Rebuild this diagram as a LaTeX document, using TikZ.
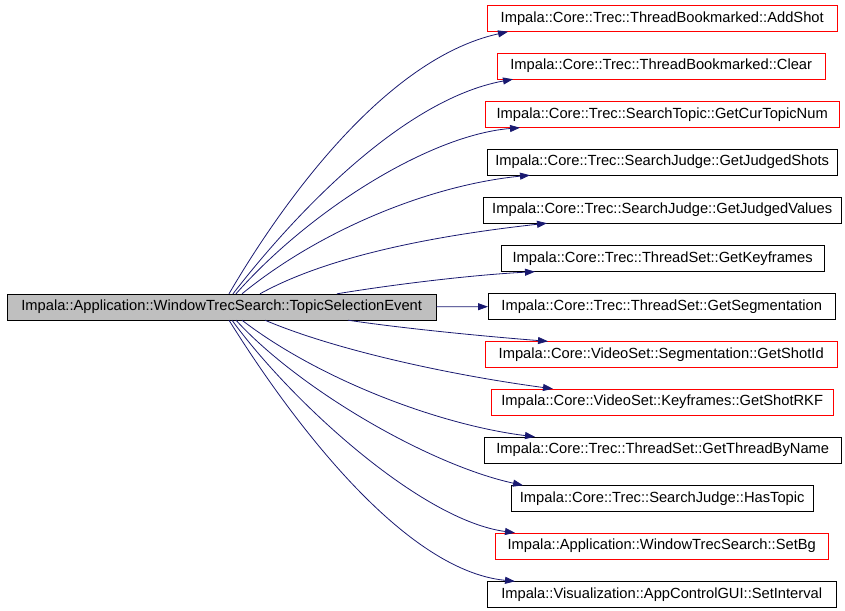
\documentclass[tikz,border=0pt]{standalone}
\usepackage{fontspec}
\setmainfont{Liberation Sans}
\usetikzlibrary{arrows.meta}

\definecolor{edgeblue}{HTML}{191970}
\definecolor{mainfill}{HTML}{BFBFBF}

\tikzset{
	fn/.style={draw, rectangle, anchor=west, minimum height=26pt, inner sep=0pt, font=\fontsize{14.7}{16}\selectfont},
	fnred/.style={fn, draw=red},
	call/.style={draw=edgeblue, line width=0.8pt, -{Triangle[length=10pt,width=7pt]}}
}

\begin{document}
\begin{tikzpicture}[x=1pt, y=-1pt]
	
	\useasboundingbox (0,0) rectangle (845,610);
	
	\node [fn, fill=mainfill, minimum width=429pt] (tse) at (7,307){Impala::Application::WindowTrecSearch::TopicSelectionEvent};
	
	\node [fnred, minimum width=350pt] (addshot) at (487,18.5){Impala::Core::Trec::ThreadBookmarked::AddShot};
	\node [fnred, minimum width=328pt] (clear) at (497,66){Impala::Core::Trec::ThreadBookmarked::Clear};
	\node [fnred, minimum width=354pt] (curtopic) at (485,114.5){Impala::Core::Trec::SearchTopic::GetCurTopicNum};
	\node [fn, minimum width=350pt] (jshots) at (487,162){Impala::Core::Trec::SearchJudge::GetJudgedShots};
	\node [fn, minimum width=358pt] (jvalues) at (483,210){Impala::Core::Trec::SearchJudge::GetJudgedValues};
	\node [fn, minimum width=323pt] (keyframes) at (501,258.5){Impala::Core::Trec::ThreadSet::GetKeyframes};
	\node [fn, minimum width=347pt] (segm) at (488,306.5){Impala::Core::Trec::ThreadSet::GetSegmentation};
	\node [fnred, minimum width=352pt] (shotid) at (485,354.5){Impala::Core::VideoSet::Segmentation::GetShotId};
	\node [fnred, minimum width=342pt] (shotrkf) at (491,402){Impala::Core::VideoSet::Keyframes::GetShotRKF};
	\node [fn, minimum width=357pt] (byname) at (484,450){Impala::Core::Trec::ThreadSet::GetThreadByName};
	\node [fn, minimum width=302pt] (hastopic) at (511,498.5){Impala::Core::Trec::SearchJudge::HasTopic};
	\node [fnred, minimum width=333pt] (setbg) at (495,546){Impala::Application::WindowTrecSearch::SetBg};
	\node [fn, minimum width=349pt] (interval) at (487,594.5){Impala::Visualization::AppControlGUI::SetInterval};
	
	\draw[call] ([xshift=222pt]tse.north west) .. controls (275,215) and (380,60) .. ([xshift=21pt]addshot.south west);
	\draw[call] ([xshift=226pt]tse.north west) .. controls (290,220) and (400,100) .. ([xshift=16pt]clear.south west);
	\draw[call] ([xshift=229pt]tse.north west) .. controls (310,210) and (430,135) .. ([xshift=35pt]curtopic.south west);
	\draw[call] ([xshift=235pt]tse.north west) .. controls (320,230) and (430,185) .. ([xshift=43pt]jshots.south west);
	\draw[call] ([xshift=253pt]tse.north west) .. controls (330,255) and (440,235) .. ([xshift=64pt]jvalues.south west);
	\draw[call] ([xshift=330pt]tse.north west) .. controls (390,285) and (470,275) .. ([xshift=34pt]keyframes.south west);
	\draw[call] (tse) -- (segm);
	\draw[call] ([xshift=341pt]tse.south west) .. controls (400,328) and (480,336) .. ([xshift=63pt]shotid.north west);
	\draw[call] ([xshift=258pt]tse.south west) .. controls (335,350) and (450,375) .. ([xshift=62pt]shotrkf.north west);
	\draw[call] ([xshift=235pt]tse.south west) .. controls (320,380) and (440,425) .. ([xshift=51pt]byname.north west);
	\draw[call] ([xshift=229pt]tse.south west) .. controls (300,390) and (430,465) .. ([xshift=12pt]hastopic.north west);
	\draw[call] ([xshift=225pt]tse.south west) .. controls (290,400) and (420,520) .. ([xshift=20pt]setbg.north west);
	\draw[call] ([xshift=222pt]tse.south west) .. controls (285,410) and (400,570) .. ([xshift=28pt]interval.north west);
	
\end{tikzpicture}
\end{document}
